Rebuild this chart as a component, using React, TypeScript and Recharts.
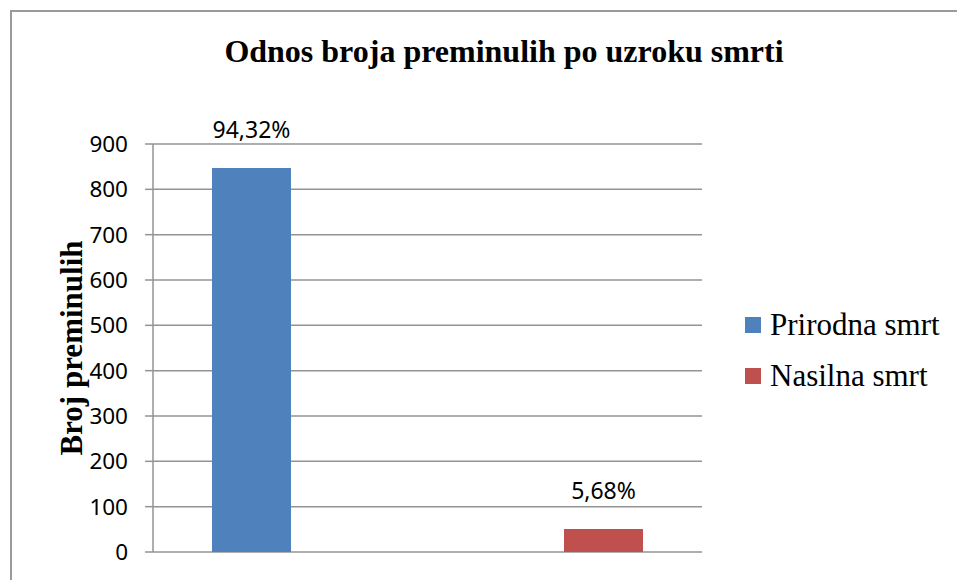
import { BarChart, Bar, XAxis, YAxis, CartesianGrid, Legend, LabelList, Customized } from "recharts";

const category = "Uzrok smrti";
const seriesNames = ["Prirodna smrt", "Nasilna smrt"];
const seriesValues = [847, 51];
const seriesColors = ["#4F81BD", "#C0504D"];
const yTicks = [0, 100, 200, 300, 400, 500, 600, 700, 800, 900];

const total = seriesValues.reduce((a, b) => a + b, 0);
const data = [{ name: category, s0: seriesValues[0], s1: seriesValues[1] }];

const sans = "'Noto Sans', 'Open Sans', sans-serif";
const serif = "'Liberation Serif', 'Times New Roman', serif";
const gridColor = "#939393";

function pct(v: number) {
  return ((v / total) * 100).toFixed(2).replace(".", ",") + "%";
}

function renderPctLabel(props: any) {
  const { x, y, width, value } = props;
  return (
    <text x={x + width / 2} y={y - 30} textAnchor="middle" fontFamily={sans} fontSize={23} fill="#000">
      {pct(value)}
    </text>
  );
}

function renderYLabel(props: any) {
  const { viewBox } = props;
  const cx = viewBox.x + 9;
  const cy = viewBox.y + viewBox.height / 2;
  return (
    <text
      x={cx}
      y={cy}
      transform={`rotate(-90, ${cx}, ${cy})`}
      textAnchor="middle"
      fontFamily={serif}
      fontWeight="bold"
      fontSize={31}
      fill="#000"
    >
      Broj preminulih
    </text>
  );
}

function Title() {
  return (
    <text x={504} y={62} textAnchor="middle" fontFamily={serif} fontWeight="bold" fontSize={32} fill="#000">
      Odnos broja preminulih po uzroku smrti
    </text>
  );
}

function renderLegend(props: any) {
  // keep the series order (the legend would otherwise sort by name)
  const payload = [...(props.payload || [])].sort(
    (a: any, b: any) => seriesNames.indexOf(a.value) - seriesNames.indexOf(b.value)
  );
  return (
    <div>
      {payload.map((entry: any) => (
        <div key={entry.value} style={{ display: "flex", alignItems: "center", height: 51 }}>
          <span style={{ width: 16, height: 16, background: entry.color, marginRight: 9, display: "inline-block" }} />
          <span style={{ fontFamily: serif, fontSize: 31, lineHeight: "31px", color: "#000", whiteSpace: "nowrap" }}>
            {entry.value}
          </span>
        </div>
      ))}
    </div>
  );
}

export default function App() {
  return (
    <div style={{ position: "absolute", left: 0, top: 0, width: 957, height: 580, overflow: "hidden", background: "#fff" }}>
      <div
        style={{
          position: "absolute",
          left: 10,
          top: 10,
          width: 1100,
          height: 800,
          border: "2px solid #9a9a9a",
          boxSizing: "border-box",
        }}
      />
      <div style={{ position: "absolute", left: 0, top: 0 }}>
        <BarChart
          width={957}
          height={580}
          data={data}
          margin={{ top: 144, right: 255, bottom: 28, left: 73 }}
          barSize={79}
          barGap={273}
        >
          <CartesianGrid vertical={false} stroke={gridColor} strokeWidth={1.5} />
          <XAxis dataKey="name" hide height={0} />
          <YAxis
            width={80}
            domain={[0, 900]}
            ticks={yTicks}
            interval={0}
            axisLine={{ stroke: gridColor, strokeWidth: 1.5 }}
            tickLine={{ stroke: gridColor, strokeWidth: 1.5 }}
            tickSize={8}
            tickMargin={17}
            tick={{ fontFamily: sans, fontSize: 22.5, fill: "#000" }}
            label={{ content: renderYLabel }}
          />
          <Legend
            layout="vertical"
            align="center"
            verticalAlign="middle"
            content={renderLegend}
            wrapperStyle={{ left: 745, top: 299, width: 210, height: "auto" }}
          />
          <Bar dataKey="s0" name={seriesNames[0]} fill={seriesColors[0]} isAnimationActive={false}>
            <LabelList dataKey="s0" content={renderPctLabel} />
          </Bar>
          <Bar dataKey="s1" name={seriesNames[1]} fill={seriesColors[1]} isAnimationActive={false}>
            <LabelList dataKey="s1" content={renderPctLabel} />
          </Bar>
          <Customized component={Title} />
        </BarChart>
      </div>
    </div>
  );
}
